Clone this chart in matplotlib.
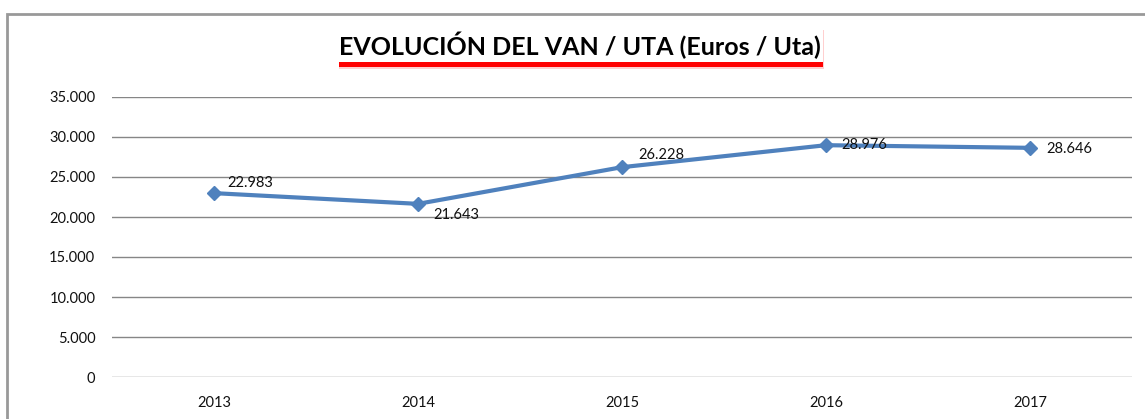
import matplotlib

matplotlib.use("Agg")
import matplotlib.pyplot as plt
from matplotlib.patches import Rectangle

years = ["2013", "2014", "2015", "2016", "2017"]
van_uta = [22983, 21643, 26228, 28976, 28646]
value_labels = ["22.983", "21.643", "26.228", "28.976", "28.646"]
label_offsets = [(9.5, 7), (11, -8), (12, 8.5), (11, 0), (11.5, -0.7)]
y_ticks = [0, 5000, 10000, 15000, 20000, 25000, 30000, 35000]
y_tick_labels = ["0", "5.000", "10.000", "15.000", "20.000", "25.000", "30.000", "35.000"]

W, H = 1145, 419
plt.rcParams["font.family"] = ["Lato", "DejaVu Sans"]

fig = plt.figure(figsize=(W / 100, H / 100), dpi=100)


def px_box(x0, y0, x1, y1):
    return [x0 / W, 1 - y1 / H, (x1 - x0) / W, (y1 - y0) / H]


# outer chart frame (bottom/right run off the image)
fig.patches.append(Rectangle((7 / W, -0.1), 1.2, 1 - 14 / H + 0.1, transform=fig.transFigure,
                             fill=False, edgecolor="#999999", linewidth=2))

ax = fig.add_axes(px_box(112, 97, 1132, 377))
x = range(len(years))
ax.plot(x, van_uta, color="#4F81BD", linewidth=3, marker="D", markersize=7, zorder=3)
for xi, yi, lab, off in zip(x, van_uta, value_labels, label_offsets):
    ax.annotate(lab, (xi, yi), xytext=off, textcoords="offset points", fontsize=10.5,
                ha="left", va="center", color="#111111", zorder=4)

ax.set_xlim(-0.5, len(years) - 0.5)
ax.set_ylim(0, 35000)
ax.set_yticks(y_ticks)
ax.set_yticklabels(y_tick_labels)
ax.set_xticks(list(x))
ax.set_xticklabels(years)
ax.grid(axis="y", color="#868686", linewidth=1)
ax.set_axisbelow(True)
for side in ["top", "right", "left", "bottom"]:
    ax.spines[side].set_visible(False)
ax.tick_params(axis="both", length=0, labelsize=10.5, colors="#111111")
ax.tick_params(axis="y", pad=12)
ax.tick_params(axis="x", pad=14)

# title box with red shadow below
shadow_soft = Rectangle((339 / W, 1 - 69 / H), (824 - 339) / W, (69 - 30) / H, transform=fig.transFigure,
                        facecolor="#FFB0B0", edgecolor="none", alpha=0.6)
shadow = Rectangle((339 / W, 1 - 67 / H), (823 - 339) / W, (67 - 30) / H, transform=fig.transFigure,
                   facecolor="#FF0000", edgecolor="none")
box = Rectangle((337 / W, 1 - 62 / H), (823 - 337) / W, (62 - 26) / H, transform=fig.transFigure,
                facecolor="white", edgecolor="none")
fig.patches.extend([shadow_soft, shadow, box])
fig.text(580 / W, 1 - 45 / H, "EVOLUCIÓN DEL VAN / UTA (Euros / Uta)", ha="center", va="center",
         fontsize=18, fontweight="bold", color="#000000")

fig.savefig("out.png", dpi=100)
